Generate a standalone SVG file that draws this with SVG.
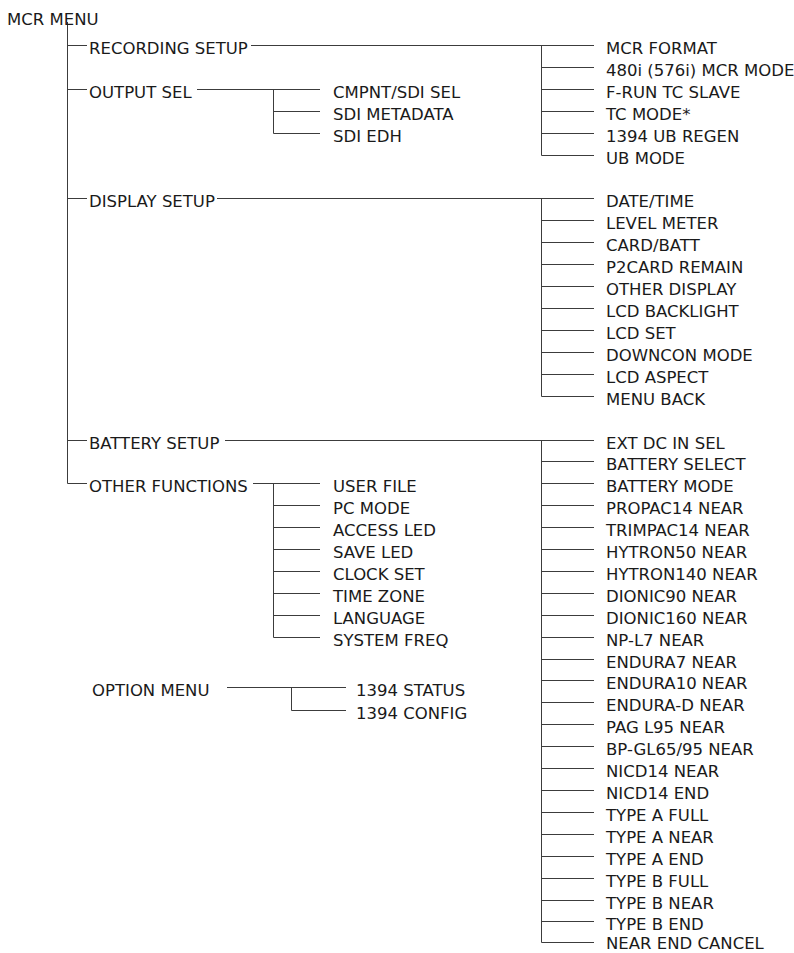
<svg xmlns="http://www.w3.org/2000/svg" width="794" height="953" viewBox="0 0 794 953">
<style>
text{font-family:"DejaVu Sans","Verdana",sans-serif;font-size:16.5px;fill:#1a1a1a}
.c{fill:none;stroke:#3c3c3c;stroke-width:1}
</style>
<rect width="794" height="953" fill="#fff"/>
<g id="connectors" class="c">
<path d="M67.5 22V483.5H87M67.5 45.5H87M67.5 89.5H87M67.5 198.5H87M67.5 440.5H87"/>
<path d="M251 45.5H594M541.5 45.5V155.5H594M541.5 67.5H594M541.5 89.5H594M541.5 111.5H594M541.5 133.5H594"/>
<path d="M197 89.5H320M273.5 89.5V133.5H320M273.5 111.5H320"/>
<path d="M217 198.5H594M541.5 198.5V396.5H594M541.5 220.5H594M541.5 242.5H594M541.5 264.5H594M541.5 286.5H594M541.5 308.5H594M541.5 330.5H594M541.5 352.5H594M541.5 374.5H594"/>
<path d="M225 440.5H594M541.5 440.5V942.5H594M541.5 461.5H594M541.5 483.5H594M541.5 505.5H594M541.5 527.5H594M541.5 549.5H594M541.5 571.5H594M541.5 593.5H594M541.5 615.5H594M541.5 637.5H594M541.5 659.5H594M541.5 680.5H594M541.5 702.5H594M541.5 724.5H594M541.5 746.5H594M541.5 768.5H594M541.5 790.5H594M541.5 812.5H594M541.5 834.5H594M541.5 856.5H594M541.5 878.5H594M541.5 900.5H594M541.5 921.5H594"/>
<path d="M253 483.5H320M273.5 483.5V637.5H320M273.5 505.5H320M273.5 527.5H320M273.5 549.5H320M273.5 571.5H320M273.5 593.5H320M273.5 615.5H320"/>
<path d="M227 687.5H346M291.5 687.5V710.5H346"/>
</g>
<g id="mcr-menu"><text x="7" y="25">MCR MENU</text></g>
<g id="recording-setup"><text x="89" y="53.7">RECORDING SETUP</text></g>
<g id="output-sel"><text x="89" y="97.7">OUTPUT SEL</text></g>
<g id="display-setup"><text x="89" y="206.7">DISPLAY SETUP</text></g>
<g id="battery-setup"><text x="89" y="448.7">BATTERY SETUP</text></g>
<g id="other-functions"><text x="89" y="491.7">OTHER FUNCTIONS</text></g>
<g id="option-menu"><text x="92" y="695.7">OPTION MENU</text></g>
<g id="recording-children">
<g id="mcr-format"><text x="606" y="53.7">MCR FORMAT</text></g>
<g id="mcr-mode"><text x="606" y="75.7">480i (576i) MCR MODE</text></g>
<g id="frun-tc-slave"><text x="606" y="97.7">F-RUN TC SLAVE</text></g>
<g id="tc-mode"><text x="606" y="119.7">TC MODE*</text></g>
<g id="ub-regen"><text x="606" y="141.7">1394 UB REGEN</text></g>
<g id="ub-mode"><text x="606" y="163.7">UB MODE</text></g>
</g>
<g id="output-children">
<g id="cmpnt-sdi-sel"><text x="333" y="97.7">CMPNT/SDI SEL</text></g>
<g id="sdi-metadata"><text x="333" y="119.7">SDI METADATA</text></g>
<g id="sdi-edh"><text x="333" y="141.7">SDI EDH</text></g>
</g>
<g id="display-children">
<g id="date-time"><text x="606" y="206.7">DATE/TIME</text></g>
<g id="level-meter"><text x="606" y="228.7">LEVEL METER</text></g>
<g id="card-batt"><text x="606" y="250.7">CARD/BATT</text></g>
<g id="p2card-remain"><text x="606" y="272.7">P2CARD REMAIN</text></g>
<g id="other-display"><text x="606" y="294.7">OTHER DISPLAY</text></g>
<g id="lcd-backlight"><text x="606" y="316.7">LCD BACKLIGHT</text></g>
<g id="lcd-set"><text x="606" y="338.7">LCD SET</text></g>
<g id="downcon-mode"><text x="606" y="360.7">DOWNCON MODE</text></g>
<g id="lcd-aspect"><text x="606" y="382.7">LCD ASPECT</text></g>
<g id="menu-back"><text x="606" y="404.7">MENU BACK</text></g>
</g>
<g id="battery-children">
<g id="ext-dc-in-sel"><text x="606" y="448.7">EXT DC IN SEL</text></g>
<g id="battery-select"><text x="606" y="469.7">BATTERY SELECT</text></g>
<g id="battery-mode"><text x="606" y="491.7">BATTERY MODE</text></g>
<g id="propac14-near"><text x="606" y="513.7">PROPAC14 NEAR</text></g>
<g id="trimpac14-near"><text x="606" y="535.7">TRIMPAC14 NEAR</text></g>
<g id="hytron50-near"><text x="606" y="557.7">HYTRON50 NEAR</text></g>
<g id="hytron140-near"><text x="606" y="579.7">HYTRON140 NEAR</text></g>
<g id="dionic90-near"><text x="606" y="601.7">DIONIC90 NEAR</text></g>
<g id="dionic160-near"><text x="606" y="623.7">DIONIC160 NEAR</text></g>
<g id="np-l7-near"><text x="606" y="645.7">NP-L7 NEAR</text></g>
<g id="endura7-near"><text x="606" y="667.7">ENDURA7 NEAR</text></g>
<g id="endura10-near"><text x="606" y="688.7">ENDURA10 NEAR</text></g>
<g id="endura-d-near"><text x="606" y="710.7">ENDURA-D NEAR</text></g>
<g id="pag-l95-near"><text x="606" y="732.7">PAG L95 NEAR</text></g>
<g id="bp-gl65-95-near"><text x="606" y="754.7">BP-GL65/95 NEAR</text></g>
<g id="nicd14-near"><text x="606" y="776.7">NICD14 NEAR</text></g>
<g id="nicd14-end"><text x="606" y="798.7">NICD14 END</text></g>
<g id="type-a-full"><text x="606" y="820.7">TYPE A FULL</text></g>
<g id="type-a-near"><text x="606" y="842.7">TYPE A NEAR</text></g>
<g id="type-a-end"><text x="606" y="864.7">TYPE A END</text></g>
<g id="type-b-full"><text x="606" y="886.7">TYPE B FULL</text></g>
<g id="type-b-near"><text x="606" y="908.7">TYPE B NEAR</text></g>
<g id="type-b-end"><text x="606" y="929.7">TYPE B END</text></g>
<g id="near-end-cancel"><text x="606" y="949">NEAR END CANCEL</text></g>
</g>
<g id="other-children">
<g id="user-file"><text x="333" y="491.7">USER FILE</text></g>
<g id="pc-mode"><text x="333" y="513.7">PC MODE</text></g>
<g id="access-led"><text x="333" y="535.7">ACCESS LED</text></g>
<g id="save-led"><text x="333" y="557.7">SAVE LED</text></g>
<g id="clock-set"><text x="333" y="579.7">CLOCK SET</text></g>
<g id="time-zone"><text x="333" y="601.7">TIME ZONE</text></g>
<g id="language"><text x="333" y="623.7">LANGUAGE</text></g>
<g id="system-freq"><text x="333" y="645.7">SYSTEM FREQ</text></g>
</g>
<g id="option-children">
<g id="status-1394"><text x="356" y="695.7">1394 STATUS</text></g>
<g id="config-1394"><text x="356" y="718.7">1394 CONFIG</text></g>
</g>
</svg>
